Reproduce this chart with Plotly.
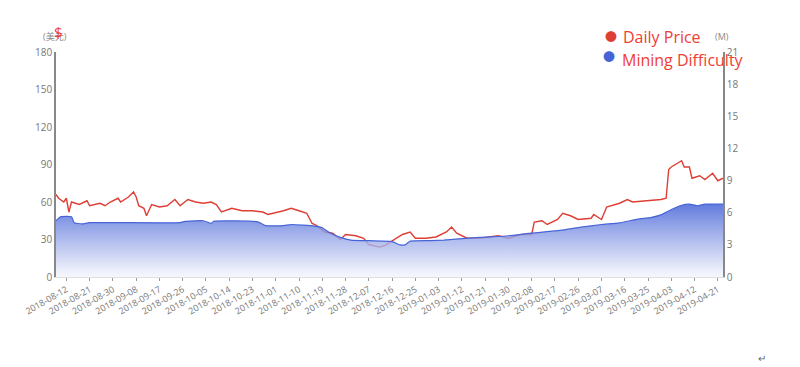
import plotly.graph_objects as go

# Daily price (USD, left axis)
price_dates = [
    "2018-08-08", "2018-08-09", "2018-08-11", "2018-08-12", "2018-08-13", "2018-08-14",
    "2018-08-17", "2018-08-20", "2018-08-21", "2018-08-25", "2018-08-27", "2018-08-29",
    "2018-09-01", "2018-09-02", "2018-09-05", "2018-09-07", "2018-09-08", "2018-09-09",
    "2018-09-11", "2018-09-12", "2018-09-14", "2018-09-17", "2018-09-20", "2018-09-23",
    "2018-09-25", "2018-09-28", "2018-10-01", "2018-10-04", "2018-10-07", "2018-10-09",
    "2018-10-11", "2018-10-15", "2018-10-19", "2018-10-23", "2018-10-27", "2018-10-29",
    "2018-11-04", "2018-11-07", "2018-11-10", "2018-11-13", "2018-11-15", "2018-11-17",
    "2018-11-20", "2018-11-23", "2018-11-26", "2018-11-28", "2018-12-02", "2018-12-05",
    "2018-12-07", "2018-12-11", "2018-12-13", "2018-12-16", "2018-12-20", "2018-12-23",
    "2018-12-25", "2018-12-29", "2019-01-02", "2019-01-06", "2019-01-08", "2019-01-10",
    "2019-01-14", "2019-01-19", "2019-01-23", "2019-01-26", "2019-01-30", "2019-02-04",
    "2019-02-08", "2019-02-09", "2019-02-12", "2019-02-14", "2019-02-18", "2019-02-20",
    "2019-02-23", "2019-02-26", "2019-03-03", "2019-03-04", "2019-03-07", "2019-03-09",
    "2019-03-14", "2019-03-17", "2019-03-19", "2019-03-25", "2019-03-30", "2019-04-01",
    "2019-04-02", "2019-04-03", "2019-04-07", "2019-04-08", "2019-04-10", "2019-04-11",
    "2019-04-14", "2019-04-16", "2019-04-19", "2019-04-21", "2019-04-23",
]
price_values = [
    66, 63, 60, 63, 52, 60,
    58, 61, 57, 59, 57, 60,
    63, 60, 64, 68, 64, 57,
    55, 49, 58, 56, 57, 62,
    57, 62, 60, 59, 60, 58,
    52, 55, 53, 53, 52, 50,
    53, 55, 53, 51, 43, 41,
    36, 35, 30, 34, 33, 31,
    26, 24, 25, 29, 34, 36,
    31, 31, 32, 36, 40, 35,
    31, 31, 32, 33, 31, 34,
    34, 44, 45, 42, 46, 51,
    49, 46, 47, 50, 46, 56,
    59, 62, 60, 61, 62, 63,
    86, 88, 93, 88, 88, 79,
    81, 78, 83, 77, 79,
]

# Mining difficulty (M, right axis)
diff_dates = [
    "2018-08-08", "2018-08-10", "2018-08-14", "2018-08-15", "2018-08-18", "2018-08-21",
    "2018-09-25", "2018-09-27", "2018-10-04", "2018-10-07", "2018-10-08", "2018-10-25",
    "2018-10-28", "2018-11-04", "2018-11-07", "2018-11-16", "2018-11-19", "2018-11-22",
    "2018-11-26", "2018-11-30", "2018-12-16", "2018-12-19", "2018-12-21", "2018-12-23",
    "2018-12-31", "2019-01-05", "2019-01-19", "2019-01-30", "2019-02-08", "2019-02-19",
    "2019-02-27", "2019-03-07", "2019-03-14", "2019-03-21", "2019-03-26", "2019-03-30",
    "2019-04-03", "2019-04-07", "2019-04-10", "2019-04-13", "2019-04-16", "2019-04-23",
]
diff_values = [
    5.25, 5.63, 5.63, 5.07, 4.95, 5.07,
    5.07, 5.2, 5.25, 5.0, 5.2, 5.15,
    4.8, 4.8, 4.9, 4.75, 4.6, 4.1,
    3.7, 3.45, 3.3, 3.0, 3.0, 3.35,
    3.4, 3.45, 3.7, 3.85, 4.1, 4.35,
    4.65, 4.9, 5.05, 5.4, 5.55, 5.8,
    6.3, 6.7, 6.8, 6.65, 6.8, 6.8,
]

tick_dates = [
    "2018-08-12", "2018-08-21", "2018-08-30", "2018-09-08", "2018-09-17", "2018-09-26",
    "2018-10-05", "2018-10-14", "2018-10-23", "2018-11-01", "2018-11-10", "2018-11-19",
    "2018-11-28", "2018-12-07", "2018-12-16", "2018-12-25", "2019-01-03", "2019-01-12",
    "2019-01-21", "2019-01-30", "2019-02-08", "2019-02-17", "2019-02-26", "2019-03-07",
    "2019-03-16", "2019-03-25", "2019-04-03", "2019-04-12", "2019-04-21",
]

legend_names = ["Daily Price", "Mining Difficulty"]

RED = "rgb(222,62,52)"
BLUE = "rgb(70,100,215)"
GREY = "#777777"
LEG_RED = "rgb(238,62,52)"

fig = go.Figure()

fig.add_trace(go.Scatter(
    x=price_dates, y=price_values, mode="lines", yaxis="y",
    line=dict(color=RED, width=1.4), showlegend=False, name=legend_names[0],
))
fig.add_trace(go.Scatter(
    x=diff_dates, y=diff_values, mode="lines", yaxis="y2",
    line=dict(color=BLUE, width=1.2, shape="spline", smoothing=0.4),
    fill="tozeroy",
    fillgradient=dict(
        type="vertical", start=0, stop=6.8,
        colorscale=[[0, "rgba(245,246,253,0.75)"], [1, "rgba(70,100,215,0.85)"]],
    ),
    showlegend=False, name=legend_names[1],
))

annotations = [
    dict(text="(美元)", xref="paper", yref="paper", x=-0.001, y=1.071,
         xanchor="center", yanchor="middle", showarrow=False,
         font=dict(size=9, color="#888888")),
    dict(text="$", xref="paper", yref="paper", x=0.003, y=1.09,
         xanchor="center", yanchor="middle", showarrow=False,
         font=dict(size=15, color=LEG_RED)),
    dict(text="(M)", xref="paper", yref="paper", x=0.999, y=1.067,
         xanchor="center", yanchor="middle", showarrow=False,
         font=dict(size=9, color="#888888")),
    dict(text="↵", xref="paper", yref="paper", x=1.0585, y=-0.36,
         xanchor="center", yanchor="middle", showarrow=False,
         font=dict(size=10, color="#666666")),
]
# legend drawn as dots + labels
leg_rows = [(1.064, 1.067, RED, 0.832, 0.847), (0.975, 0.964, BLUE, 0.829, 0.8455)]
for name, (dy, ty, col, dx, tx) in zip(legend_names, leg_rows):
    annotations.append(dict(text="●", xref="paper", yref="paper", x=dx, y=dy,
                            xanchor="center", yanchor="middle", showarrow=False,
                            font=dict(size=12, color=col)))
    annotations.append(dict(text=name, xref="paper", yref="paper", x=tx, y=ty,
                            xanchor="left", yanchor="middle", showarrow=False,
                            font=dict(size=16, color=LEG_RED)))

fig.update_layout(
    width=792, height=359,
    margin=dict(l=48, r=77, t=44, b=90),
    paper_bgcolor="white", plot_bgcolor="white",
    font=dict(family="Open Sans, Noto Sans CJK SC, sans-serif", color=GREY, size=10),
    showlegend=False,
    xaxis=dict(
        type="date", range=["2018-08-08", "2019-04-23"],
        tickmode="array", tickvals=tick_dates, ticktext=tick_dates,
        tickangle=-30, tickfont=dict(size=9, color=GREY),
        showgrid=False, zeroline=False, showline=True, linecolor="#dddddd",
        ticks="outside", ticklen=3, tickcolor="#999999",
    ),
    yaxis=dict(
        range=[0, 180], dtick=30, showgrid=False, zeroline=False,
        showline=True, linecolor="#888888", linewidth=1.5, ticks="",
        tickfont=dict(size=10, color=GREY),
    ),
    yaxis2=dict(
        range=[0, 21], dtick=3, overlaying="y", side="right",
        showgrid=False, zeroline=False, showline=True, linecolor="#888888",
        linewidth=1.5, ticks="", tickfont=dict(size=10, color=GREY),
    ),
    annotations=annotations,
)

fig.write_html("out.html")
